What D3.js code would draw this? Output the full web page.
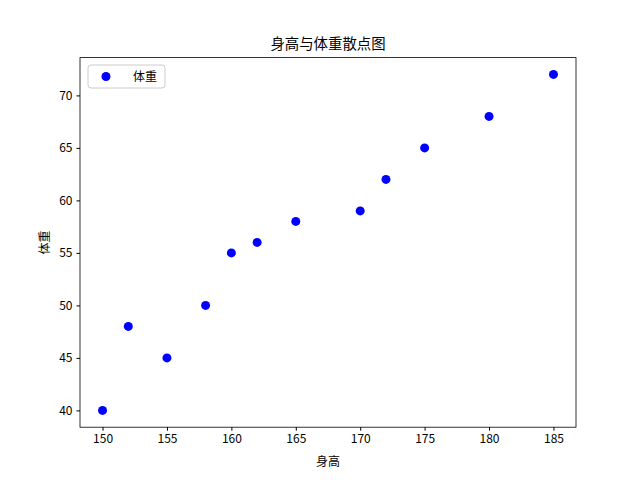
<!DOCTYPE html>
<html>
<head>
<meta charset="utf-8">
<script src="https://cdn.jsdelivr.net/npm/d3@7"></script>
<style>
  body { margin: 0; background: #fff; }
  text { font-family: "Noto Sans CJK SC", "DejaVu Sans", sans-serif; }
</style>
</head>
<body>
<div id="chart"></div>
<script>
// Data.
const heights = [150, 152, 155, 158, 160, 162, 165, 170, 172, 175, 180, 185];
const weights = [40, 48, 45, 50, 55, 56, 58, 59, 62, 65, 68, 72];
const xTicks = [150, 155, 160, 165, 170, 175, 180, 185];
const yTicks = [40, 45, 50, 55, 60, 65, 70];

const width = 640, height = 480;
const m = { top: 57.6, right: 64, bottom: 52.8, left: 80 };

const svg = d3.select('#chart')
  .append('svg')
  .attr('width', width)
  .attr('height', height);

const x = d3.scaleLinear().domain([148.25, 186.75]).range([m.left, width - m.right]);
const y = d3.scaleLinear().domain([38.4, 73.6]).range([height - m.bottom, m.top]);

// Axes.
const xAxis = svg.append('g')
  .attr('transform', `translate(0, ${height - m.bottom})`)
  .call(d3.axisBottom(x).tickValues(xTicks).tickSize(3.5).tickPadding(4));
const yAxis = svg.append('g')
  .attr('transform', `translate(${m.left}, 0)`)
  .call(d3.axisLeft(y).tickValues(yTicks).tickSize(3.5).tickPadding(4));
[xAxis, yAxis].forEach(a => {
  a.selectAll('text').style('font-size', '12px').attr('fill', '#000');
  a.selectAll('line').attr('stroke', '#000');
  a.select('.domain').remove();
});

// Frame.
svg.append('rect')
  .attr('x', m.left).attr('y', m.top)
  .attr('width', width - m.left - m.right)
  .attr('height', height - m.top - m.bottom)
  .attr('fill', 'none').attr('stroke', '#000').attr('stroke-width', 0.8);

// Points.
svg.selectAll('circle.pt')
  .data(heights.map((h, i) => [h, weights[i]]))
  .join('circle')
  .attr('class', 'pt')
  .attr('cx', d => x(d[0]))
  .attr('cy', d => y(d[1]))
  .attr('r', 4.5)
  .attr('fill', '#0000ff');

// Titles.
svg.append('text')
  .attr('x', (m.left + width - m.right) / 2).attr('y', 49)
  .attr('text-anchor', 'middle').style('font-size', '14.4px')
  .text('身高与体重散点图');
svg.append('text')
  .attr('x', (m.left + width - m.right) / 2).attr('y', 466)
  .attr('text-anchor', 'middle').style('font-size', '12px')
  .text('身高');
svg.append('text')
  .attr('transform', `translate(49, ${(m.top + height - m.bottom) / 2}) rotate(-90)`)
  .attr('text-anchor', 'middle').style('font-size', '12px')
  .text('体重');

// Legend.
const lg = svg.append('g').attr('transform', 'translate(88, 65)');
lg.append('rect')
  .attr('width', 77).attr('height', 23).attr('rx', 3)
  .attr('fill', '#fff').attr('stroke', '#ccc');
lg.append('circle').attr('cx', 18).attr('cy', 11.5).attr('r', 4.5).attr('fill', '#0000ff');
lg.append('text').attr('x', 45).attr('y', 16).style('font-size', '12px').text('体重');
</script>
</body>
</html>
